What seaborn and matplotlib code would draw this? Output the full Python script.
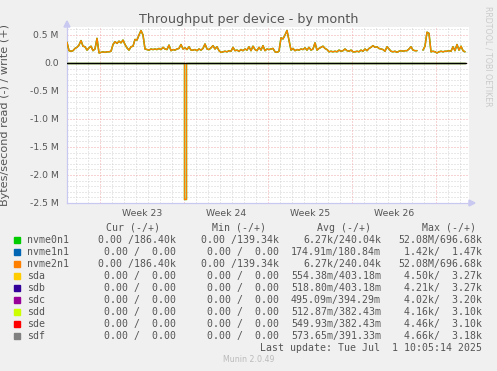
import numpy as np
import pandas as pd
import matplotlib
matplotlib.use("Agg")
import matplotlib.pyplot as plt
import seaborn as sns
from matplotlib.patches import Rectangle, Polygon

# ---------------- data ----------------
step_days = 1 / 6  # one sample every 4 hours
# write (+) throughput of nvme0n1 / nvme2n1, in M
write_vals = [
    0.37, 0.22, 0.21, 0.22, 0.26, 0.28, 0.32, 0.40, 0.30, 0.29,
    0.23, 0.27, 0.30, 0.22, 0.25, 0.44, 0.18, 0.19, 0.20, 0.19,
    0.20, 0.20, 0.21, 0.33, 0.38, 0.35, 0.39, 0.36, 0.41, 0.33,
    0.27, 0.23, 0.29, 0.30, 0.42, 0.41, 0.50, 0.58, 0.50, 0.25,
    0.24, 0.23, 0.25, 0.24, 0.25, 0.24, 0.26, 0.24, 0.28, 0.25,
    0.24, 0.32, 0.22, 0.24, 0.23, 0.25, 0.26, 0.33, 0.25, 0.27,
    0.24, 0.29, 0.23, 0.23, 0.24, 0.22, 0.25, 0.23, 0.26, 0.34,
    0.25, 0.24, 0.27, 0.31, 0.25, 0.29, 0.22, 0.19, 0.20, 0.21,
    0.20, 0.22, 0.21, 0.28, 0.22, 0.23, 0.21, 0.24, 0.22, 0.25,
    0.23, 0.29, 0.22, 0.30, 0.24, 0.22, 0.28, 0.23, 0.31, 0.22,
    0.25, 0.24, 0.25, 0.26, 0.20, 0.19, 0.21, 0.45, 0.43, 0.50,
    0.58, 0.40, 0.23, 0.26, 0.22, 0.24, 0.23, 0.25, 0.24, 0.27,
    0.23, 0.28, 0.23, 0.25, 0.36, 0.23, 0.26, 0.28, 0.30, 0.26,
    0.24, 0.20, 0.21, 0.20, 0.21, 0.20, 0.23, 0.21, 0.22, 0.25,
    0.22, 0.21, 0.23, 0.20, 0.20, 0.21, 0.20, 0.23, 0.21, 0.25,
    0.22, 0.26, 0.28, 0.31, 0.28, 0.29, 0.26, 0.25, 0.24, 0.21,
    0.29, 0.25, 0.21, 0.20, 0.21, 0.19, 0.21, 0.22, 0.21, 0.22,
    0.22, 0.25, 0.29, 0.23, 0.22, 0.22, np.nan, np.nan, 0.23, 0.30,
    0.55, 0.53, 0.20, 0.21, 0.20, 0.18, 0.20, 0.21, 0.20, 0.21,
    0.21, 0.22, 0.21, 0.29, 0.22, 0.33, 0.23, 0.30, 0.22, 0.20,
]
# read (-) throughput: flat except one burst
read_days = [0.0, 9.75, 9.75, 9.92, 9.92, 33.17]
read_vals = [0.0, 0.0, -2.43, -2.43, 0.0, 0.0]

week_labels = ["Week 23", "Week 24", "Week 25", "Week 26"]
week_starts = [2.75, 9.75, 16.75, 23.75, 30.75]
y_ticks = [0.5, 0.0, -0.5, -1.0, -1.5, -2.0, -2.5]
y_tick_labels = ["0.5 M", "0.0", "-0.5 M", "-1.0 M", "-1.5 M", "-2.0 M", "-2.5 M"]

legend_names = ["nvme0n1", "nvme1n1", "nvme2n1", "sda", "sdb", "sdc", "sdd", "sde", "sdf"]
legend_colors = ["#00CC00", "#0066B3", "#FF8000", "#FFCC00", "#330099",
                 "#990099", "#CCFF00", "#FF0000", "#808080"]
cur_col = ["0.00 /186.40k", "0.00 /  0.00", "0.00 /186.40k", "0.00 /  0.00", "0.00 /  0.00",
           "0.00 /  0.00", "0.00 /  0.00", "0.00 /  0.00", "0.00 /  0.00"]
min_col = ["0.00 /139.34k", "0.00 /  0.00", "0.00 /139.34k", "0.00 /  0.00", "0.00 /  0.00",
           "0.00 /  0.00", "0.00 /  0.00", "0.00 /  0.00", "0.00 /  0.00"]
avg_col = ["6.27k/240.04k", "174.91m/180.84m", "6.27k/240.04k", "554.38m/403.18m", "518.80m/403.18m",
           "495.09m/394.29m", "512.87m/382.43m", "549.93m/382.43m", "573.65m/391.33m"]
max_col = ["52.08M/696.68k", "1.42k/  1.47k", "52.08M/696.68k", "4.50k/  3.27k", "4.21k/  3.27k",
           "4.02k/  3.20k", "4.16k/  3.10k", "4.46k/  3.10k", "4.66k/  3.18k"]

# ---------------- figure ----------------
W, H = 497, 371
sns.set_style("white")
plt.rcParams["font.family"] = ["DejaVu Sans"]
fig = plt.figure(figsize=(W / 100, H / 100), dpi=100, facecolor="#F0F0F0")

def fx(px):
    return px / W

def fy(py):
    return 1 - py / H

ax = fig.add_axes([fx(67), fy(203), 402 / W, 176 / H])
ax.set_facecolor("white")
xmax = 33.5
ax.set_xlim(0, xmax)
ax.set_ylim(-2.5, (63 - 27) / 56)

# grid
minor_col = "#D2D2D2"
major_col = "#F0A8A8"
for d in np.arange(0.75, xmax, 1.0):
    if not any(abs(d - w) < 1e-6 for w in week_starts):
        ax.axvline(d, color=minor_col, lw=0.72, ls=(0, (1, 2)), zorder=0)
for yv in np.arange(-2.4, 0.65, 0.1):
    if abs(yv * 2 - round(yv * 2)) > 1e-6:
        ax.axhline(yv, color=minor_col, lw=0.72, ls=(0, (1, 2)), zorder=0)
for w in week_starts:
    ax.axvline(w, color=major_col, lw=0.72, ls=(0, (1, 2)), zorder=0.5)
for yv in y_ticks:
    ax.axhline(yv, color=major_col, lw=0.72, ls=(0, (1, 2)), zorder=0.5)

# series
wv = np.array(write_vals, dtype=float)
days = np.arange(len(wv)) * step_days
seg = np.cumsum(np.isnan(wv))
df_w = pd.DataFrame({"day": days, "write": wv, "seg": seg}).dropna()
df_r = pd.DataFrame({"day": read_days, "read": read_vals})

for col, alpha, lw in [("#00CC00", 1.0, 1.1), ("#FF8000", 1.0, 1.0)]:
    sns.lineplot(data=df_w, x="day", y="write", units="seg", estimator=None,
                 color=col, lw=lw, alpha=alpha, ax=ax, legend=False, zorder=3)
    sns.lineplot(data=df_r, x="day", y="read", estimator=None, sort=False,
                 color=col, lw=lw * 0.9, alpha=alpha, ax=ax, legend=False, zorder=3)

ax.axhline(0, xmin=0, xmax=(466 - 67) / 402, color="black", lw=1.0, zorder=4)

# axes styling
for s in ["top", "right"]:
    ax.spines[s].set_visible(False)
for s in ["left", "bottom"]:
    ax.spines[s].set_color("#C8C8F0")
    ax.spines[s].set_linewidth(0.9)
ax.set_yticks(y_ticks)
ax.set_yticklabels(y_tick_labels)
ax.set_xticks([w + 3.5 for w in week_starts[:4]])
ax.set_xticklabels(week_labels)
ax.tick_params(axis="both", length=0, labelsize=6.7, labelcolor="#555555")
ax.tick_params(axis="y", pad=6)
ax.tick_params(axis="x", pad=4)
ax.set_xlabel("")
ax.set_ylabel("Bytes/second read (-) / write (+)", fontsize=8.1, color="#555555")
ax.yaxis.set_label_coords((10.5 - 67) / 402, 0.5)

# axis arrows
arrow_col = "#C8C8F0"
fig.patches.append(Polygon([[fx(64), fy(27)], [fx(70), fy(27)], [fx(67), fy(21)]],
                           closed=True, transform=fig.transFigure, color=arrow_col))
fig.patches.append(Polygon([[fx(469), fy(200)], [fx(469), fy(206)], [fx(475), fy(203)]],
                           closed=True, transform=fig.transFigure, color=arrow_col))

# title & side texts
fig.text(fx(248.5), fy(23.5), "Throughput per device - by month", ha="center", va="baseline",
         fontsize=9.2, color="#555555")
fig.text(fx(488), fy(56), "RRDTOOL / TOBI OETIKER", ha="center", va="center", rotation=270,
         fontsize=5.7, color="#CBCBCB")

# legend table
mono = dict(family="DejaVu Sans Mono", fontsize=7.1, color="#555555")
base = 243
fig.text(fx(160), fy(base - 12), "Cur (-/+)", ha="right", va="baseline", **mono)
fig.text(fx(265.7), fy(base - 12), "Min (-/+)", ha="right", va="baseline", **mono)
fig.text(fx(371), fy(base - 12), "Avg (-/+)", ha="right", va="baseline", **mono)
fig.text(fx(476), fy(base - 12), "Max (-/+)", ha="right", va="baseline", **mono)
for i, name in enumerate(legend_names):
    yb = base + 12 * i
    fig.patches.append(Rectangle((fx(14), fy(yb - 0.5)), 5.5 / W, 5.5 / H,
                                 transform=fig.transFigure, color=legend_colors[i]))
    fig.text(fx(26.7), fy(yb), name, ha="left", va="baseline", **mono)
    fig.text(fx(176), fy(yb), cur_col[i], ha="right", va="baseline", **mono)
    fig.text(fx(279), fy(yb), min_col[i], ha="right", va="baseline", **mono)
    fig.text(fx(381), fy(yb), avg_col[i], ha="right", va="baseline", **mono)
    fig.text(fx(482), fy(yb), max_col[i], ha="right", va="baseline", **mono)
fig.text(fx(482), fy(base + 12 * 9), "Last update: Tue Jul  1 10:05:14 2025",
         ha="right", va="baseline", **mono)
fig.text(fx(249), fy(362.5), "Munin 2.0.49", ha="center", va="baseline",
         fontsize=5.7, color="#BBBBBB")

fig.savefig("out.png", dpi=100, facecolor=fig.get_facecolor())
